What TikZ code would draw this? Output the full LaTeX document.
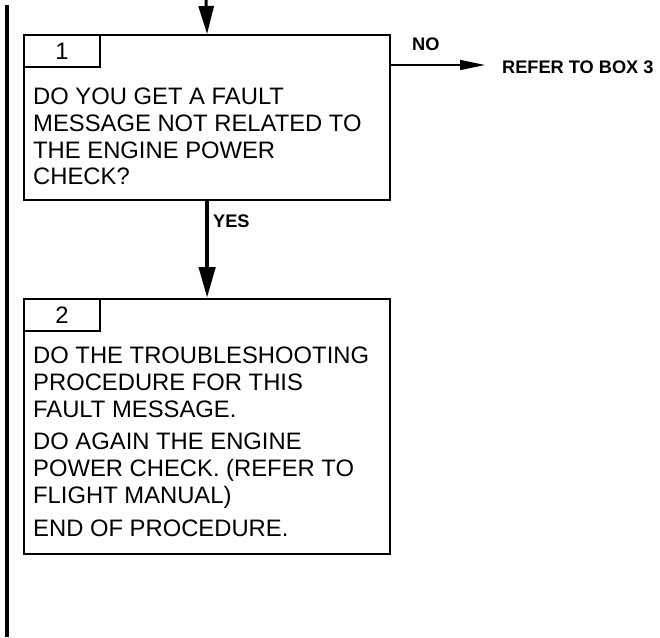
\documentclass[tikz,border=0pt]{standalone}
\usepackage{fontspec}
\setmainfont{Liberation Sans}
\usetikzlibrary{arrows.meta}
\begin{document}
\begin{tikzpicture}[x=1pt,y=-1pt,
  boxstyle/.style={draw, line width=2.2pt, minimum width=366pt, anchor=north west, inner sep=0pt},
  tabstyle/.style={draw, line width=2.2pt, minimum width=76pt, minimum height=32pt, anchor=north west, inner sep=0pt, font=\fontsize{23.8}{26.7}\selectfont},
  bodytext/.style={anchor=north west, inner sep=0pt, align=left, font=\fontsize{23.8}{26.7}\selectfont},
  lbl/.style={anchor=base west, inner sep=0pt, font=\fontsize{18.2}{20}\selectfont\bfseries},
  flow/.style={line width=4.5pt, -{Triangle[length=31pt,width=16pt]}},
  side/.style={line width=1.5pt, -{Triangle[length=25pt,width=10pt]}}
]
\useasboundingbox (0,0) rectangle (660,637);
% left bar
\draw[line width=4pt] (7,5) -- (7,637);
% box 1
\node[boxstyle, minimum height=165pt] (b1) at (23,34) {};
\node[tabstyle] (t1) at (23,34) {1};
\node[bodytext] (q1) at (33,88) {DO YOU GET A FAULT\\MESSAGE NOT RELATED TO\\THE ENGINE POWER\\CHECK?};
% box 2
\node[boxstyle, minimum height=255pt] (b2) at (23,298) {};
\node[tabstyle] (t2) at (23,298) {2};
\node[bodytext] (a2) at (33,347) {DO THE TROUBLESHOOTING\\PROCEDURE FOR THIS\\FAULT MESSAGE.\\[6pt]DO AGAIN THE ENGINE\\POWER CHECK. (REFER TO\\FLIGHT MANUAL)\\[6pt]END OF PROCEDURE.};
% connectors
\coordinate (top) at (206,0);
\draw[line width=3pt, -{Triangle[length=28pt,width=15pt]}] (top) -- (b1.north);
\draw[flow] (b1.south) -- (b2.north);
\node[lbl] (yes) at (213,227) {YES};
\coordinate (noend) at (485,65);
\draw[side] (b1.east |- noend) -- (noend);
\node[lbl] (no) at (412,50) {NO};
\node[lbl] (refer) at (502,73) {REFER TO BOX 3};
\end{tikzpicture}
\end{document}
